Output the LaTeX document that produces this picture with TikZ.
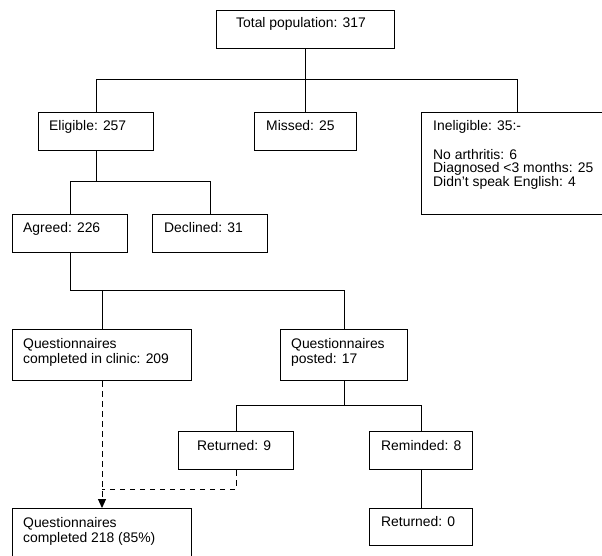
\documentclass[tikz,border=0pt]{standalone}
\usepackage{fontspec}
\setmainfont{Liberation Sans}
\usetikzlibrary{arrows.meta,calc}
\tikzset{
  box/.style={draw=black, line width=1pt, rectangle, inner sep=0pt, anchor=north west},
  txt/.style={inner sep=0pt, anchor=base west, align=left, font=\fontsize{13.9}{15}\selectfont},
  link/.style={draw=black, line width=1pt},
  dlink/.style={draw=black, line width=1pt, dash pattern=on 5.5pt off 4.5pt},
}
\begin{document}
\begin{tikzpicture}[x=1pt, y=-1pt]
\fill[white] (0,0) rectangle (602,556);
\useasboundingbox (0,0) rectangle (602,556);
% boxes
\node[box, minimum width=178pt, minimum height=38pt] (total) at (216,10) {};
\node[box, minimum width=115pt, minimum height=38pt] (eligible) at (38,112) {};
\node[box, minimum width=102pt, minimum height=38pt] (missed) at (254,112) {};
\node[box, minimum width=191pt, minimum height=102pt] (inelig) at (421,112) {};
\node[box, minimum width=115pt, minimum height=38pt] (agreed) at (12,214) {};
\node[box, minimum width=115pt, minimum height=38pt] (declined) at (152,214) {};
\node[box, minimum width=179pt, minimum height=51pt] (clinic) at (12,329) {};
\node[box, minimum width=127pt, minimum height=51pt] (posted) at (280,329) {};
\node[box, minimum width=115pt, minimum height=38pt] (ret9) at (178,431) {};
\node[box, minimum width=103pt, minimum height=38pt] (remind) at (369,431) {};
\node[box, minimum width=103pt, minimum height=37pt] (ret0) at (369,508) {};
\node[box, minimum width=179pt, minimum height=56pt] (final) at (12,508) {};
% texts (base west = baseline of the last line)
\node[txt] (ttotal) at ($(total.north west)+(20,18)$) {Total population: 317};
\node[txt] (telig) at ($(eligible.north west)+(11,19)$) {Eligible: 257};
\node[txt] (tmissed) at ($(missed.north west)+(12,19)$) {Missed: 25};
\node[txt, font=\fontsize{13.9}{14}\selectfont] (tinelig) at ($(inelig.north west)+(12,75)$) {Ineligible: 35:-\\[14pt]No arthritis: 6\\Diagnosed <3 months: 25\\Didn’t speak English: 4};
\node[txt] (tagreed) at ($(agreed.north west)+(11,19)$) {Agreed: 226};
\node[txt] (tdecl) at ($(declined.north west)+(12,19)$) {Declined: 31};
\node[txt] (tclinic) at ($(clinic.north west)+(11,34)$) {Questionnaires\\completed in clinic: 209};
\node[txt] (tposted) at ($(posted.north west)+(11,34)$) {Questionnaires\\posted: 17};
\node[txt] (tret9) at ($(ret9.north west)+(19,19)$) {Returned: 9};
\node[txt] (tremind) at ($(remind.north west)+(12,19)$) {Reminded: 8};
\node[txt] (tret0) at ($(ret0.north west)+(12,18)$) {Returned: 0};
\node[txt] (tfinal) at ($(final.north west)+(11,34)$) {Questionnaires\\completed 218 (85\%)};
% junction levels
\coordinate (j1) at (0,80);
\coordinate (j2) at (0,182);
\coordinate (j3) at (0,290);
\coordinate (j4) at (0,405);
\coordinate (j5) at (0,489);
% connectors
\draw[link] (total.south) -- (total.south |- j1);
\draw[link] (eligible.north) |- (inelig.north |- j1) -- (inelig.north);
\draw[link] (missed.north) -- (missed.north |- j1);
\draw[link] (eligible.south) -- (eligible.south |- j2);
\draw[link] (agreed.north) |- (declined.north |- j2) -- (declined.north);
\draw[link] (agreed.south) |- (posted.north |- j3) -- (posted.north);
\draw[link] (clinic.north) -- (clinic.north |- j3);
\draw[link] (posted.south) -- (posted.south |- j4);
\draw[link] (ret9.north) |- (remind.north |- j4) -- (remind.north);
\draw[link] (remind.south) -- (ret0.north);
\draw[dlink, -{Triangle[length=9pt,width=8pt]}] (clinic.south) -- (final.north);
\draw[dlink] (ret9.south) |- (final.north |- j5);
\end{tikzpicture}
\end{document}
